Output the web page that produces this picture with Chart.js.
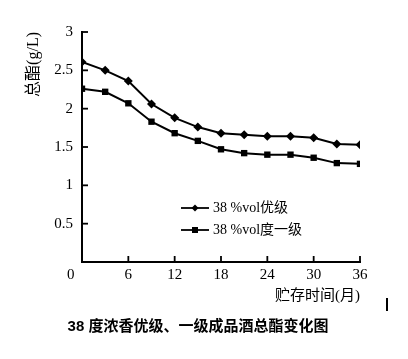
<!DOCTYPE html>
<html>
<head>
<meta charset="utf-8">
<script src="https://cdn.jsdelivr.net/npm/chart.js@4"></script>
<style>
  html, body { margin: 0; padding: 0; background: #fff; }
  #wrap { position: relative; width: 408px; height: 359px; }
  #mark { position: absolute; left: 386px; top: 298px; width: 2px; height: 13px; background: #000; }
</style>
</head>
<body>
<div id="wrap">
  <canvas id="esterChart"></canvas>
  <div id="mark"></div>
</div>
<script>
// 贮存时间(月)
const months = [0, 3, 6, 9, 12, 15, 18, 21, 24, 27, 30, 33, 36];
// 总酯 (g/L)
const youji = [2.61, 2.50, 2.36, 2.06, 1.88, 1.76, 1.68, 1.66, 1.64, 1.64, 1.62, 1.54, 1.53];
const yiji = [2.26, 2.22, 2.07, 1.83, 1.68, 1.58, 1.47, 1.42, 1.40, 1.40, 1.36, 1.29, 1.28];
const seriesNames = ['38 %vol优级', '38 %vol度一级'];
const yTicks = ['0', '0.5', '1', '1.5', '2', '2.5', '3'];

const serif = '"Liberation Serif", "Noto Sans CJK SC", serif';

// 图例小图标: 线 + 标记
function legendIcon(shape) {
    const c = document.createElement('canvas');
    c.width = 30; c.height = 10;
    const g = c.getContext('2d');
    g.strokeStyle = '#000'; g.fillStyle = '#000'; g.lineWidth = 1.8;
    g.beginPath(); g.moveTo(1, 5); g.lineTo(29, 5); g.stroke();
    g.beginPath();
    if (shape === 'diamond') {
        g.moveTo(15, 1.5); g.lineTo(18.5, 5); g.lineTo(15, 8.5); g.lineTo(11.5, 5);
    } else {
        g.rect(12, 2, 6, 6);
    }
    g.closePath(); g.fill();
    return c;
}
const icons = [legendIcon('diamond'), legendIcon('square')];

// 刻度线朝内
const inwardTicks = {
    id: 'inwardTicks',
    afterDraw(chart) {
        const { ctx, chartArea, scales: { x, y } } = chart;
        ctx.save();
        ctx.strokeStyle = '#000';
        ctx.lineWidth = 1.8;
        y.ticks.forEach(t => {
            if (t.value === 0) return;
            const py = y.getPixelForValue(t.value);
            ctx.beginPath(); ctx.moveTo(chartArea.left, py); ctx.lineTo(chartArea.left + 6, py); ctx.stroke();
        });
        x.ticks.forEach(t => {
            if (t.value === 0) return;
            const px = x.getPixelForValue(t.value);
            ctx.beginPath(); ctx.moveTo(px, chartArea.bottom); ctx.lineTo(px, chartArea.bottom - 6); ctx.stroke();
        });
        ctx.restore();
    }
};

// 图例放进绘图区
const placeLegend = {
    id: 'placeLegend',
    afterLayout(chart) {
        const lg = chart.legend;
        lg.left = 176; lg.top = 193;
        lg.right = lg.left + lg.width; lg.bottom = lg.top + lg.height;
    }
};

const ctx = document.getElementById('esterChart').getContext('2d');
const chart = new Chart(ctx, {
    type: 'line',
    data: {
        datasets: [
            {
                label: seriesNames[0],
                data: months.map((m, i) => ({ x: m, y: youji[i] })),
                borderColor: '#000', backgroundColor: '#000', borderWidth: 2,
                pointStyle: 'rectRot', pointRadius: 4.5, pointBackgroundColor: '#000', pointBorderWidth: 0,
                tension: 0
            },
            {
                label: seriesNames[1],
                data: months.map((m, i) => ({ x: m, y: yiji[i] })),
                borderColor: '#000', backgroundColor: '#000', borderWidth: 2,
                pointStyle: 'rect', pointRadius: 4.5, pointBackgroundColor: '#000', pointBorderWidth: 0,
                tension: 0
            }
        ]
    },
    options: {
        responsive: true,
        maintainAspectRatio: false,
        animation: false,
        layout: { padding: { left: 0, top: 32, right: 12, bottom: 0 } },
        scales: {
            x: {
                type: 'linear', min: 0, max: 36,
                afterFit: s => { s.height = 46; },
                border: { display: true, color: '#000', width: 2 },
                grid: { display: false, drawTicks: false },
                ticks: {
                    stepSize: 6, padding: 4, color: '#000',
                    font: { family: serif, size: 15 },
                    callback: v => v === 0 ? '0\u2003\u2002' : String(v)
                },
                title: {
                    display: true, text: '贮存时间(月)', align: 'end', color: '#000',
                    font: { family: serif, size: 15 },
                    padding: { top: 0, bottom: 3 }
                }
            },
            y: {
                min: 0, max: 3,
                afterFit: s => { s.width = 82; },
                border: { display: true, color: '#000', width: 2 },
                grid: { display: false, drawTicks: false },
                ticks: {
                    stepSize: 0.5, padding: 9, color: '#000',
                    font: { family: serif, size: 15 },
                    callback: (v, i) => v === 0 ? '' : yTicks[i]
                },
                title: {
                    display: true, text: '总酯(g/L)', align: 'end', color: '#000',
                    font: { family: serif, size: 16 },
                    padding: { top: 24, bottom: 0 }
                }
            },
            // 右侧留白, 不显示
            spacer: {
                type: 'linear', position: 'right', display: true,
                afterFit: s => { s.width = 36; },
                border: { display: false },
                grid: { display: false, drawTicks: false },
                ticks: { display: false }
            }
        },
        plugins: {
            legend: {
                position: 'chartArea',
                align: 'start',
                labels: {
                    usePointStyle: true,
                    pointStyleWidth: 22,
                    padding: 8,
                    color: '#000',
                    font: { family: serif, size: 14 },
                    generateLabels: c => c.data.datasets.map((d, i) => ({
                        text: d.label, pointStyle: icons[i], datasetIndex: i,
                        fillStyle: '#000', strokeStyle: '#000', lineWidth: 0, fontColor: '#000'
                    }))
                }
            },
            title: {
                display: true, position: 'bottom', color: '#000',
                text: '38 度浓香优级、一级成品酒总酯变化图',
                font: { family: '"Liberation Sans", "Noto Sans CJK SC", sans-serif', size: 15, weight: 'bold' },
                padding: { top: 10, bottom: 23 }
            },
            tooltip: { enabled: false }
        }
    },
    plugins: [inwardTicks, placeLegend]
});
</script>
</body>
</html>
